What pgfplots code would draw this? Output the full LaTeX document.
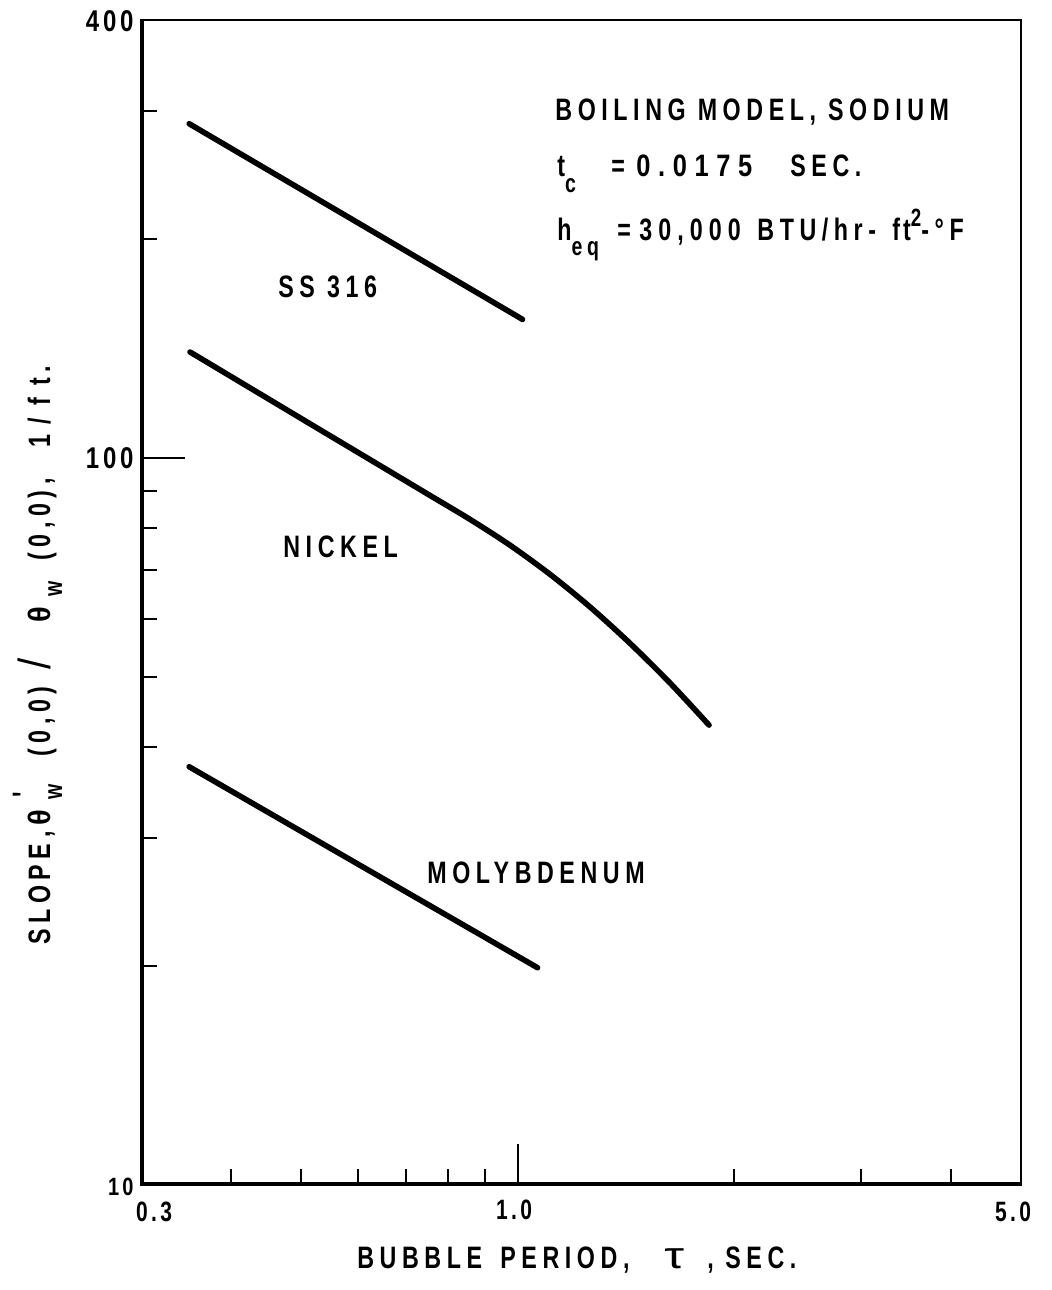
\documentclass[border=0pt]{standalone}
\usepackage{pgfplots}
\pgfplotsset{compat=1.18}
\usepackage{fontspec}
\setmainfont{Liberation Sans}
\newfontfamily\lbl{Liberation Sans}[LetterSpace=24]
\newfontfamily\lblw{Liberation Sans}[LetterSpace=30]
\newfontfamily\lblm{Liberation Sans}[LetterSpace=26]
\newfontfamily\lbln{Liberation Sans}[LetterSpace=16]
\newcommand\C[1]{\scalebox{0.75}[1]{#1}}
\newcommand\T{\fontsize{15.5}{18}\selectfont\lbl\bfseries}
\newcommand\SUB{\fontsize{13}{15}\selectfont\lbl\bfseries}
\begin{document}
\begin{tikzpicture}[x=0.5pt,y=-0.5pt]
\path[use as bounding box] (0,0) rectangle (1052,1290);
\begin{axis}[
  at={(70.5pt,-592.5pt)}, anchor=south west,
  scale only axis, width=440pt, height=582.5pt,
  xmode=log, ymode=log, xmin=0.3, xmax=5, ymin=10, ymax=400,
  axis line style={black, line width=1.1pt},
  xtick={0.4,0.5,0.6,0.7,0.8,0.9,2,3,4},
  ytick={20,30,40,50,60,70,80,90,200,300},
  minor xtick={}, minor ytick={},
  xticklabels={}, yticklabels={},
  tick align=inside, tick pos=left,
  major tick length=8pt,
  tick style={black, line width=1pt},
]
% SS 316
\addplot[black, line width=2.8pt, line cap=round] coordinates {(0.350,288) (1.016,155)};
% Nickel
\addplot[black, line width=2.8pt, line cap=round, line join=round, smooth, tension=0.5] coordinates {
 (0.3509,139.80) (0.4251,124.78) (0.5150,111.37) (0.6239,99.43) (0.7558,88.77)
 (0.8589,82.29) (0.9761,75.83) (1.1095,69.14) (1.2605,62.36) (1.4325,55.58)
 (1.6280,49.02) (1.8445,42.90)};
% Molybdenum
\addplot[black, line width=2.8pt, line cap=round] coordinates {(0.350,37.6) (1.066,19.9)};
\draw[black, line width=2.8pt] (rel axis cs:0,1) -- (rel axis cs:0,0) -- (rel axis cs:1,0);
\draw[black, line width=1pt] (axis cs:1,10) -- ++(0pt,20.5pt);
\draw[black, line width=1pt] (axis cs:0.3,100) -- ++(22pt,0pt);
\end{axis}
% annotations
\node[anchor=base west, inner sep=0] at (555,120) {\C{\T BOILING MODEL, SODIUM}};
\node[anchor=base west, inner sep=0] at (557,176) {\C{\T t\raisebox{-8pt}{\SUB c}}};
\node[anchor=base west, inner sep=0] at (611,176) {\C{\T =}};
\node[anchor=base west, inner sep=0] at (636,176) {\scalebox{0.82}[1]{\fontsize{15.5}{18}\selectfont\lblw\bfseries 0.0175}};
\node[anchor=base west, inner sep=0] at (790,176) {\C{\T SEC.}};
\node[anchor=base west, inner sep=0] at (557,240) {\C{\T h\raisebox{-7.5pt}{\SUB eq}}};
\node[anchor=base west, inner sep=0] at (617,240) {\C{\T =}};
\node[anchor=base west, inner sep=0] at (639,240) {\C{\fontsize{15.5}{18}\selectfont\lblm\bfseries 30,000}};
\node[anchor=base west, inner sep=0] at (757,240) {\C{\T BTU/hr-}};
\node[anchor=base west, inner sep=0] at (892,240) {\C{\T f\hspace{2pt}t\raisebox{0.8ex}{\fontsize{12.5}{14}\selectfont\lbl\bfseries 2}-°F}};
\node[anchor=base west, inner sep=0] at (278,297) {\C{\T SS 316}};
\node[anchor=base west, inner sep=0] at (283,557) {\C{\T NICKEL}};
\node[anchor=base west, inner sep=0] at (427,883) {\C{\T MOLYBDENUM}};
% x label
\node[anchor=base west, inner sep=0] at (357,1268) {\C{\T BUBBLE}};
\node[anchor=base west, inner sep=0] at (500,1268) {\C{\T PERIOD,}};
\node[anchor=base west, inner sep=0] at (664,1268) {\fontsize{12.5}{15}\selectfont\scalebox{2.0}[1.5]{τ}};
\node[anchor=base west, inner sep=0] at (707,1268) {\C{\T ,}};
\node[anchor=base west, inner sep=0] at (725,1268) {\C{\T SEC.}};
% y label (rotated pieces)
\node[rotate=90, anchor=base west, inner sep=0] at (50,945) {\C{\T SLOPE,}};
\node[rotate=90, anchor=base west, inner sep=0] at (50,826) {\C{\T\scalebox{1.25}[1]{θ}}};
\node[rotate=90, anchor=base west, inner sep=0] at (50,800) {\C{\raisebox{-6pt}{\SUB w}}};
\node[rotate=90, anchor=base west, inner sep=0] at (50,798) {\C{\raisebox{8pt}{\T\textquotesingle}}};
\node[rotate=90, anchor=base west, inner sep=0] at (50,757) {\C{\T (0,0)}};
\node[rotate=90, anchor=base west, inner sep=0] at (50,670) {\fontsize{15.5}{18}\selectfont\scalebox{1.3}[1.45]{/}};
\node[rotate=90, anchor=base west, inner sep=0] at (50,623) {\C{\T\scalebox{1.25}[1]{θ}}};
\node[rotate=90, anchor=base west, inner sep=0] at (50,597) {\C{\raisebox{-6pt}{\SUB w}}};
\node[rotate=90, anchor=base west, inner sep=0] at (50,561) {\C{\T (0,0)}};
\node[rotate=90, anchor=base west, inner sep=0] at (50,485) {\C{\T ,}};
\node[rotate=90, anchor=base west, inner sep=0] at (50,448) {\C{\T 1\hspace{7pt}/\hspace{8pt}f\hspace{8pt}t.}};
% tick labels
\node[anchor=east, inner sep=0] at (134,21) {\scalebox{0.8}[1]{\fontsize{15}{17}\selectfont\lbln\bfseries 400}};
\node[anchor=east, inner sep=0] at (134,458) {\scalebox{0.8}[1]{\fontsize{15}{17}\selectfont\lbln\bfseries 100}};
\node[anchor=east, inner sep=0] at (134,1187) {\scalebox{0.8}[1]{\fontsize{12.5}{14}\selectfont\lbln\bfseries 10}};
\node[anchor=center, inner sep=0] at (154,1212) {\scalebox{0.75}[1]{\fontsize{14}{16}\selectfont\lbln\bfseries 0.3}};
\node[anchor=center, inner sep=0] at (514,1210) {\scalebox{0.75}[1]{\fontsize{14}{16}\selectfont\lbln\bfseries 1.0}};
\node[anchor=center, inner sep=0] at (1013,1212) {\scalebox{0.75}[1]{\fontsize{14}{16}\selectfont\lbln\bfseries 5.0}};
\end{tikzpicture}
\end{document}
